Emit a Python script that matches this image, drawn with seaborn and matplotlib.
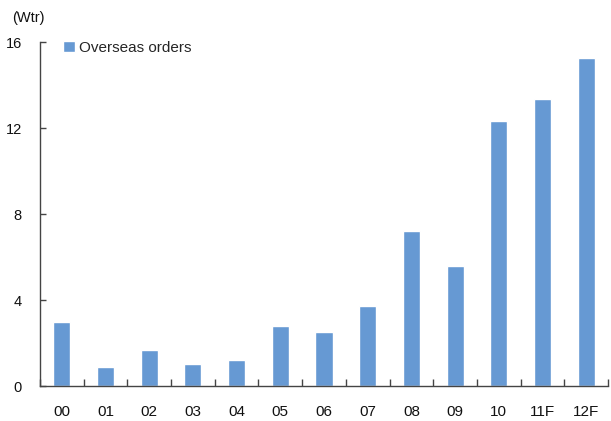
import matplotlib
matplotlib.use("Agg")
import matplotlib.pyplot as plt
from matplotlib.ticker import FixedLocator
import seaborn as sns
import pandas as pd

years = ["00", "01", "02", "03", "04", "05", "06", "07", "08", "09", "10", "11F", "12F"]
orders = [2.98, 0.88, 1.67, 1.02, 1.21, 2.79, 2.51, 3.72, 7.21, 5.58, 12.33, 13.35, 15.26]
y_ticks = [0, 4, 8, 12, 16]
series_name = "Overseas orders"
unit_label = "(Wtr)"

sns.set_theme(style="white")
plt.rcParams["font.family"] = ["Liberation Sans", "DejaVu Sans"]

df = pd.DataFrame({"year": years, "orders": orders})

fig = plt.figure(figsize=(6.11, 4.21), dpi=100)
ax = fig.add_axes([40 / 611, 35 / 421, 568 / 611, 344 / 421])

sns.barplot(data=df, x="year", y="orders", color="#6699d3", saturation=1,
            width=0.39, label=series_name, ax=ax)

ax.set_xlim(-0.5, len(years) - 0.5)
ax.set_ylim(0, 16)
ax.set_yticks(y_ticks)
ax.set_xlabel("")
ax.set_ylabel("")

for side in ["top", "right"]:
    ax.spines[side].set_visible(False)
for side in ["left", "bottom"]:
    ax.spines[side].set_color("#444444")
    ax.spines[side].set_linewidth(1.0)

ax.tick_params(axis="y", direction="in", length=4, width=1, color="#444444",
               labelsize=10.5, pad=13, left=True, labelcolor="#111111")
ax.tick_params(axis="x", which="major", length=0, labelsize=11, pad=14,
               labelcolor="#111111")
ax.xaxis.set_minor_locator(FixedLocator([i - 0.5 for i in range(len(years) + 1)]))
ax.tick_params(axis="x", which="minor", direction="in", length=5, width=1,
               color="#444444", bottom=True)

leg = ax.legend(loc="upper left", bbox_to_anchor=(0.03, 1.02), frameon=False,
                fontsize=11, handlelength=0.75, handleheight=0.75,
                handletextpad=0.3, borderaxespad=0)

fig.text(12 / 611, 1 - 18 / 421, unit_label, fontsize=10.5, va="center",
         ha="left", color="#111111")

fig.savefig("out.png", dpi=100)
